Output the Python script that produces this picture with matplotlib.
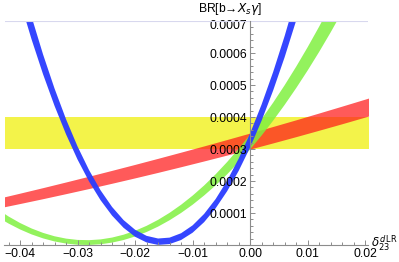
# -*- coding: utf-8 -*-
# BR(b -> Xs gamma) as a function of delta_23^dLR, bands in Mathematica style

import matplotlib
matplotlib.use('Agg')
import matplotlib.pyplot as plt
import matplotlib.transforms as mtrans
from matplotlib.ticker import MultipleLocator, FixedLocator

plt.rcParams['font.family'] = ['Liberation Sans', 'DejaVu Sans']
plt.rcParams['mathtext.fontset'] = 'dejavusans'

# blue band
x_blue = [-0.040, -0.038, -0.036, -0.034, -0.032, -0.030, -0.028, -0.026, -0.024,
          -0.022, -0.020, -0.018, -0.016, -0.014, -0.012, -0.010, -0.008, -0.006,
          -0.004, -0.002, 0.000, 0.002, 0.004, 0.006, 0.008, 0.010]
blue_lo = [7.623e-4, 6.429e-4, 5.337e-4, 4.347e-4, 3.458e-4, 2.670e-4, 1.984e-4, 1.400e-4,
           0.918e-4, 0.537e-4, 0.257e-4, 0.079e-4, 0.003e-4, 0.029e-4, 0.156e-4, 0.384e-4,
           0.714e-4, 1.146e-4, 1.680e-4, 2.315e-4, 3.051e-4, 3.889e-4, 4.829e-4, 5.871e-4,
           7.014e-4, 8.258e-4]
blue_hi = [8.423e-4, 7.136e-4, 5.957e-4, 4.889e-4, 3.930e-4, 3.080e-4, 2.341e-4, 1.710e-4,
           1.190e-4, 0.779e-4, 0.477e-4, 0.286e-4, 0.203e-4, 0.231e-4, 0.368e-4, 0.614e-4,
           0.971e-4, 1.436e-4, 2.012e-4, 2.697e-4, 3.491e-4, 4.396e-4, 5.409e-4, 6.533e-4,
           7.766e-4, 9.108e-4]

# green band
x_green = [-0.044, -0.042, -0.040, -0.038, -0.036, -0.034, -0.032, -0.030, -0.028, -0.026,
           -0.024, -0.022, -0.020, -0.018, -0.016, -0.014, -0.012, -0.010, -0.008, -0.006,
           -0.004, -0.002, 0.000, 0.002, 0.004, 0.006, 0.008, 0.010, 0.012, 0.014, 0.016]
green_lo = [0.884e-4, 0.671e-4, 0.487e-4, 0.332e-4, 0.207e-4, 0.111e-4, 0.045e-4, 0.008e-4,
            0.001e-4, 0.023e-4, 0.075e-4, 0.155e-4, 0.266e-4, 0.406e-4, 0.575e-4, 0.774e-4,
            1.002e-4, 1.259e-4, 1.547e-4, 1.863e-4, 2.209e-4, 2.584e-4, 2.989e-4, 3.423e-4,
            3.887e-4, 4.380e-4, 4.903e-4, 5.455e-4, 6.036e-4, 6.647e-4, 7.287e-4]
green_hi = [1.128e-4, 0.892e-4, 0.688e-4, 0.517e-4, 0.379e-4, 0.273e-4, 0.200e-4, 0.159e-4,
            0.151e-4, 0.175e-4, 0.232e-4, 0.322e-4, 0.444e-4, 0.599e-4, 0.786e-4, 1.006e-4,
            1.258e-4, 1.543e-4, 1.860e-4, 2.210e-4, 2.593e-4, 3.008e-4, 3.456e-4, 3.936e-4,
            4.449e-4, 4.994e-4, 5.572e-4, 6.183e-4, 6.826e-4, 7.501e-4, 8.210e-4]

# red band
x_red = [-0.044, -0.040, -0.036, -0.032, -0.028, -0.024, -0.020, -0.016, -0.012,
         -0.008, -0.004, 0.000, 0.004, 0.008, 0.012, 0.016, 0.020, 0.024]
red_lo = [1.148e-4, 1.297e-4, 1.449e-4, 1.606e-4, 1.766e-4, 1.931e-4, 2.099e-4, 2.271e-4,
          2.448e-4, 2.628e-4, 2.812e-4, 3.000e-4, 3.192e-4, 3.388e-4, 3.588e-4, 3.791e-4,
          3.999e-4, 4.211e-4]
red_hi = [1.451e-4, 1.621e-4, 1.794e-4, 1.971e-4, 2.151e-4, 2.334e-4, 2.520e-4, 2.710e-4,
          2.903e-4, 3.098e-4, 3.298e-4, 3.500e-4, 3.706e-4, 3.914e-4, 4.127e-4, 4.342e-4,
          4.560e-4, 4.782e-4]

# experimental band (yellow)
x_exp = [-0.044, 0.024]
exp_lo = [3.0e-4, 3.0e-4]
exp_hi = [4.0e-4, 4.0e-4]

xticks = [-0.04, -0.03, -0.02, -0.01, 0.00, 0.01, 0.02]
xticklabels = ['\u22120.04', '\u22120.03', '\u22120.02', '\u22120.01', '0.00', '0.01', '0.02']
yticks = [0.0001, 0.0002, 0.0003, 0.0004, 0.0005, 0.0006, 0.0007]
yticklabels = ['0.0001', '0.0002', '0.0003', '0.0004', '0.0005', '0.0006', '0.0007']

W, H = 399, 262
fig = plt.figure(figsize=(W/100, H/100), dpi=100)
ax = fig.add_axes([4.5/W, 1-245/H, (367.5-4.5)/W, (245-21)/H])

ax.fill_between(x_exp, exp_lo, exp_hi, color='#f2f22a', alpha=0.85, lw=0)
ax.fill_between(x_red, red_lo, red_hi, color='#ff1a1a', alpha=0.72, lw=0)
ax.fill_between(x_green, green_lo, green_hi, color='#80f040', alpha=0.85, lw=0)
ax.fill_between(x_blue, blue_lo, blue_hi, color='#2a3cff', alpha=0.95, lw=0)
ax.axhline(0.0007, color='#d8d8ee', lw=0.8)

ax.set_xlim(-0.0427, 0.0204)
ax.set_ylim(0, 0.0007)

for s in ['top', 'right']:
    ax.spines[s].set_visible(False)
ax.spines['left'].set_position(('data', 0))
for s in ['left', 'bottom']:
    ax.spines[s].set_color('#8c8c8c')
    ax.spines[s].set_linewidth(0.8)
    ax.spines[s].set_zorder(5)

ax.xaxis.set_major_locator(FixedLocator(xticks))
ax.set_xticklabels(xticklabels)
ax.xaxis.set_minor_locator(MultipleLocator(0.002))
ax.yaxis.set_major_locator(FixedLocator(yticks))
ax.set_yticklabels(yticklabels)
ax.yaxis.set_minor_locator(MultipleLocator(0.00002))

ax.tick_params(which='both', direction='in', color='#8c8c8c', width=0.7, labelsize=8.7)
ax.tick_params(which='major', length=3.8)
ax.tick_params(which='minor', length=2.0)
ax.tick_params(axis='x', pad=2.5)
ax.tick_params(axis='y', pad=2.5)

# top label sits a little lower, as in the original
top_lab = ax.get_yticklabels()[-1]
top_lab.set_transform(top_lab.get_transform() + mtrans.ScaledTranslation(0, -2.5/72, fig.dpi_scale_trans))

fig.text(230/W, 1-9/H, 'BR[b\u2192$X_s\\gamma$]', ha='center', va='center', fontsize=8.7)
fig.text(371/W, 1-243/H, r'$\delta_{23}^{d\,\mathrm{LR}}$', ha='left', va='center', fontsize=8.5)

fig.savefig('out.png', dpi=100)
